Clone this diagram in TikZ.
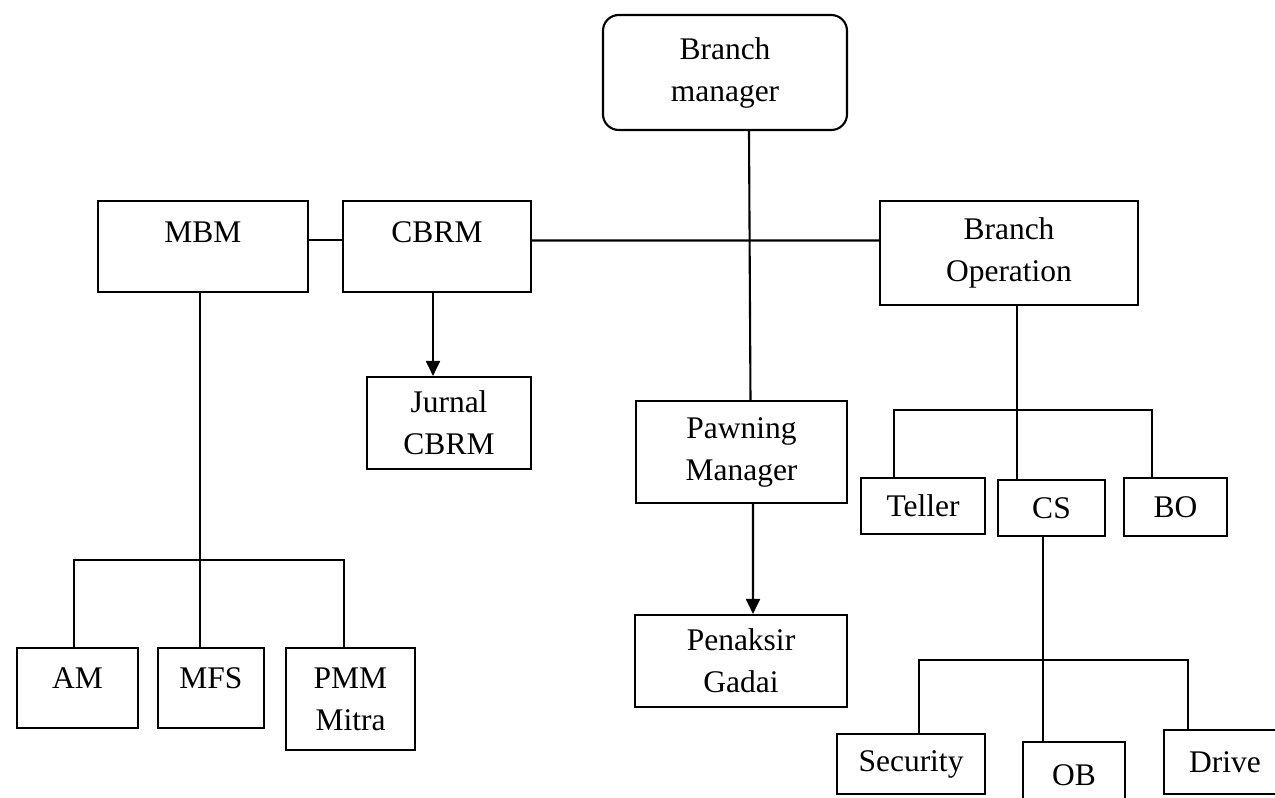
\documentclass[tikz,border=0pt]{standalone}
\usepackage{fontspec}
\setmainfont{Liberation Serif}
\usetikzlibrary{arrows.meta,calc}

\begin{document}
\begin{tikzpicture}[
    x=0.381pt, y=-0.381pt,
    >={Triangle[length=5.7pt,width=5.3pt]},
    box/.style={
      rectangle,
      draw=black,
      line width=0.8pt,
      fill=white,
      align=center,
      inner sep=2pt,
      font=\fontsize{12}{16}\selectfont
    },
    head/.style={box, rounded corners=6pt},
    sz/.style 2 args={minimum width=#1*0.381pt, minimum height=#2*0.381pt},
    link/.style={draw=black, line width=0.8pt},
    arrow/.style={link, ->}
  ]
  \useasboundingbox (0,0) rectangle (1275,798);
  \clip (0,0) rectangle (1275,798);

  \node[head, sz={244}{115}] (bm) at (725,72.5) {Branch\\manager};

  \node[box, sz={210}{91}, text depth=11pt] (mbm) at (203,246.5) {MBM};
  \node[box, sz={188}{91}, text depth=11pt] (cbrm) at (437,246.5) {CBRM};
  \node[box, sz={258}{104}] (bop) at (1009,253) {Branch\\Operation};

  \node[box, sz={164}{92}] (jurnal) at (449,423) {Jurnal\\CBRM};
  \node[box, sz={211}{102}] (pawn) at (741.5,452) {Pawning\\Manager};
  \node[box, sz={212}{92}] (penaksir) at (741,661) {Penaksir\\Gadai};

  \node[box, sz={124}{56}] (teller) at (923,506) {Teller};
  \node[box, sz={107}{56}] (cs) at (1051.5,508) {CS};
  \node[box, sz={103}{58}] (bo) at (1175.5,507) {BO};

  \node[box, sz={121}{80}, text depth=7.6pt] (am) at (77.5,688) {AM};
  \node[box, sz={106}{80}, text depth=7.6pt] (mfs) at (211,688) {MFS};
  \node[box, sz={129}{102}] (pmm) at (350.5,699) {PMM\\Mitra};

  \node[box, sz={148}{60}] (security) at (911,764) {Security};
  \node[box, sz={102}{66}] (ob) at (1074,775) {OB};
  \node[box, sz={122}{64}] (drive) at (1225,762) {Drive};

  % top level
  \draw[link] ($(mbm.east)+(0,-6.5)$) -- ($(cbrm.west)+(0,-6.5)$);
  \draw[link] ($(cbrm.east)+(0,-6)$) -- ($(bop.west)+(0,-12.5)$);
  \draw[link] ($(bm.south)+(24,0)$) -- ($(pawn.north)+(9,0)$);
  \draw[arrow] ($(cbrm.south)+(-4,0)$) -- ($(jurnal.north)+(-16,0)$);
  \draw[arrow] ($(pawn.south)+(11.5,0)$) -- ($(penaksir.north)+(12,0)$);

  % MBM branch
  \draw[link] ($(mbm.south)+(-3,0)$) -- ($(mfs.north)+(-11,0)$);
  \draw[link] ($(am.north)+(-3.5,0)$) -- ++(0,-87) -| ($(pmm.north)+(-6.5,0)$);

  % Branch Operation branch
  \draw[link] ($(bop.south)+(8,0)$) -- ($(cs.north)+(-34.5,0)$);
  \draw[link] ($(teller.north)+(-29,0)$) -- ++(0,-67) -| ($(bo.north)+(-23.5,0)$);

  % CS branch
  \draw[link] ($(cs.south)+(-8.5,0)$) -- ($(ob.north)+(-31,0)$);
  \draw[link] ($(security.north)+(8,0)$) -- ++(0,-73) -| ($(drive.north)+(-37,0)$);

\end{tikzpicture}
\end{document}
